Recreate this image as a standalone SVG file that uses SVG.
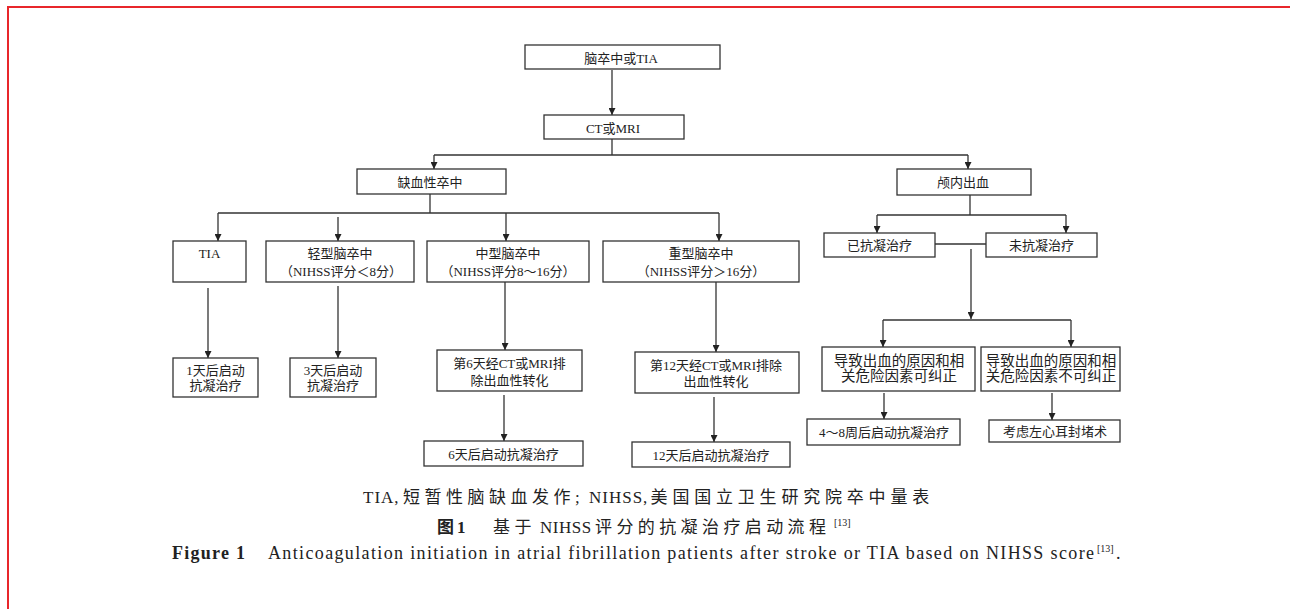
<svg xmlns="http://www.w3.org/2000/svg" width="1290" height="609" viewBox="0 0 1290 609">
<style>
.bx{fill:#fff;stroke:#333;stroke-width:1.3}
.t{font-family:"Liberation Serif","Noto Sans CJK SC",serif;font-size:13px;fill:#222;text-anchor:middle}
.t15{font-size:14.5px}
.cn{stroke:#333;stroke-width:1.3;fill:none}
.ar{stroke:#333;stroke-width:1.3;fill:none;marker-end:url(#ah)}
.cap{font-family:"Liberation Serif","Noto Sans CJK SC",serif;font-size:17px;fill:#222}
.en{font-size:18px}
.b{font-weight:bold}
.sup{font-size:10px}
</style>
<defs>
<marker id="ah" viewBox="0 0 10 10" refX="10" refY="5" markerWidth="7" markerHeight="7" markerUnits="userSpaceOnUse" orient="auto">
<path d="M0,0 L10,5 L0,10 z" fill="#222"/>
</marker>
</defs>
<rect width="1290" height="609" fill="#fff"/>
<g id="frame">
<line x1="8" y1="7" x2="1290" y2="7" stroke="#e8262b" stroke-width="2"/>
<line x1="8" y1="6" x2="8" y2="609" stroke="#e8262b" stroke-width="2"/>
</g>
<g id="connectors">
<line class="ar" x1="612" y1="70" x2="612" y2="115"/>
<line class="cn" x1="612" y1="139" x2="612" y2="155"/>
<line class="cn" x1="434" y1="155" x2="968" y2="155"/>
<line class="ar" x1="434" y1="155" x2="434" y2="169"/>
<line class="ar" x1="968" y1="155" x2="968" y2="169"/>
<line class="cn" x1="430" y1="194" x2="430" y2="213"/>
<line class="cn" x1="218" y1="213" x2="719" y2="213"/>
<line class="ar" x1="218" y1="213" x2="218" y2="241"/>
<line class="ar" x1="338" y1="217" x2="338" y2="241"/>
<line class="ar" x1="506" y1="213" x2="506" y2="241"/>
<line class="ar" x1="719" y1="213" x2="719" y2="241"/>
<line class="ar" x1="208" y1="288" x2="208" y2="358"/>
<line class="ar" x1="338" y1="286" x2="338" y2="358"/>
<line class="ar" x1="505" y1="282" x2="505" y2="350"/>
<line class="ar" x1="504" y1="395" x2="504" y2="441"/>
<line class="ar" x1="716" y1="282" x2="716" y2="352"/>
<line class="ar" x1="714" y1="397" x2="714" y2="442"/>
<line class="cn" x1="970" y1="195" x2="970" y2="215"/>
<line class="cn" x1="877" y1="215" x2="1066" y2="215"/>
<line class="ar" x1="877" y1="215" x2="877" y2="233"/>
<line class="ar" x1="1066" y1="215" x2="1066" y2="233"/>
<line class="cn" x1="935" y1="244" x2="986" y2="244"/>
<line class="ar" x1="971" y1="249" x2="971" y2="319"/>
<line class="cn" x1="883" y1="320" x2="1071" y2="320"/>
<line class="ar" x1="883" y1="320" x2="883" y2="347"/>
<line class="ar" x1="1071" y1="320" x2="1071" y2="347"/>
<line class="ar" x1="884" y1="393" x2="884" y2="419"/>
<line class="ar" x1="1052" y1="393" x2="1052" y2="420"/>
</g>
<g id="n1"><rect class="bx" x="525" y="45" width="195" height="24"/><text class="t" x="621" y="62.5">脑卒中或TIA</text></g>
<g id="n2"><rect class="bx" x="544" y="115" width="140" height="24"/><text class="t" x="613" y="132.5">CT或MRI</text></g>
<g id="n3"><rect class="bx" x="357" y="169" width="149" height="25"/><text class="t" x="430" y="186.5">缺血性卒中</text></g>
<g id="n4"><rect class="bx" x="897" y="169" width="134" height="26"/><text class="t" x="963" y="186.5">颅内出血</text></g>
<g id="n5"><rect class="bx" x="173" y="241" width="73" height="41"/><text class="t" x="209.5" y="257.5">TIA</text></g>
<g id="n6"><rect class="bx" x="266" y="241" width="148" height="41"/><text class="t" x="340" y="258">轻型脑卒中</text><text class="t" x="341" y="275.5">（NIHSS评分＜8分）</text></g>
<g id="n7"><rect class="bx" x="427" y="241" width="162" height="41"/><text class="t" x="508" y="258">中型脑卒中</text><text class="t" x="508" y="275.5">（NIHSS评分8～16分）</text></g>
<g id="n8"><rect class="bx" x="603" y="241" width="196" height="41"/><text class="t" x="701" y="258">重型脑卒中</text><text class="t" x="701" y="275.5">（NIHSS评分＞16分）</text></g>
<g id="n9"><rect class="bx" x="173" y="358" width="85" height="39"/><text class="t" x="215.5" y="375">1天后启动</text><text class="t" x="215.5" y="390">抗凝治疗</text></g>
<g id="n10"><rect class="bx" x="290" y="358" width="86" height="39"/><text class="t" x="333" y="375">3天后启动</text><text class="t" x="333" y="390">抗凝治疗</text></g>
<g id="n11"><rect class="bx" x="437" y="350" width="145" height="41"/><text class="t" x="509.5" y="368">第6天经CT或MRI排</text><text class="t" x="509.5" y="385">除出血性转化</text></g>
<g id="n12"><rect class="bx" x="424" y="441" width="159" height="25"/><text class="t" x="503.5" y="458.5">6天后启动抗凝治疗</text></g>
<g id="n13"><rect class="bx" x="635" y="352" width="164" height="41"/><text class="t" x="716" y="370">第12天经CT或MRI排除</text><text class="t" x="716" y="386">出血性转化</text></g>
<g id="n14"><rect class="bx" x="632" y="442" width="158" height="25"/><text class="t" x="711" y="459.5">12天后启动抗凝治疗</text></g>
<g id="n15"><rect class="bx" x="824" y="233" width="111" height="24"/><text class="t" x="879.5" y="250">已抗凝治疗</text></g>
<g id="n16"><rect class="bx" x="986" y="233" width="111" height="24"/><text class="t" x="1041.5" y="250">未抗凝治疗</text></g>
<g id="n17"><rect class="bx" x="822" y="347" width="153" height="44"/><text class="t t15" x="899" y="366">导致出血的原因和相</text><text class="t t15" x="899" y="381">关危险因素可纠正</text></g>
<g id="n18"><rect class="bx" x="981" y="347" width="139" height="44"/><text class="t t15" x="1051" y="366">导致出血的原因和相</text><text class="t t15" x="1051" y="381">关危险因素不可纠正</text></g>
<g id="n19"><rect class="bx" x="807" y="419" width="153" height="26"/><text class="t" x="884" y="437">4～8周后启动抗凝治疗</text></g>
<g id="n20"><rect class="bx" x="989" y="420" width="131" height="22"/><text class="t" x="1055" y="436">考虑左心耳封堵术</text></g>
<g id="captions">
<text class="cap" y="503"><tspan x="363" letter-spacing="1">TIA,</tspan><tspan x="403" letter-spacing="4.5">短暂性脑缺血发作;</tspan><tspan x="589" letter-spacing="1">NIHSS,</tspan><tspan x="650.6" letter-spacing="4.8">美国国立卫生研究院卒中量表</tspan></text>
<text class="cap" y="533"><tspan class="b" x="437" letter-spacing="3">图1</tspan><tspan x="493" letter-spacing="4.4">基于</tspan><tspan x="540" letter-spacing="0.5">NIHSS</tspan><tspan x="595" letter-spacing="4.4">评分的抗凝治疗启动流程</tspan></text>
<text class="cap sup" x="834" y="526">[13]</text>
<text class="cap en b" x="172" y="559" textLength="73" lengthAdjust="spacing">Figure 1</text>
<text class="cap en" x="268" y="559" textLength="826" lengthAdjust="spacing">Anticoagulation initiation in atrial fibrillation patients after stroke or TIA based on NIHSS score</text>
<text class="cap sup" x="1097" y="552">[13]</text>
<text class="cap en" x="1116" y="559">.</text>
</g>
</svg>
